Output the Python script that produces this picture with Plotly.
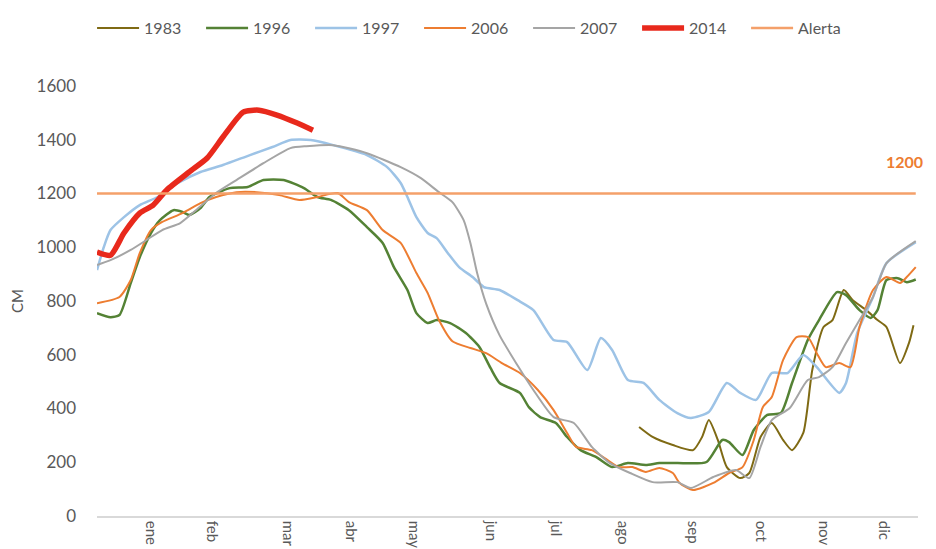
"""Niveles de agua por año frente al umbral de alerta."""

import plotly.graph_objects as go

# eje x: día del año
month_labels = ["ene", "feb", "mar", "abr", "may", "jun", "jul", "ago", "sep", "oct", "nov", "dic"]
month_ticks = [24, 51, 85, 113, 141, 175, 204, 234, 265, 295, 323, 350]

alert_level = 1200

days_1983 = [241, 247, 256, 265, 269, 272, 276, 280, 286, 290, 295, 300, 305, 309, 314, 318,
             323, 327, 332, 336, 342, 347, 351, 357, 361, 363]
cm_1983 = [331, 294, 264, 245, 294, 357, 283, 182, 141, 160, 294, 346, 283, 245, 309, 543,
           703, 729, 841, 803, 766, 729, 703, 569, 644, 710]

days_1996 = [0, 6, 10, 15, 19, 24, 28, 34, 38, 41, 46, 50, 59, 67, 74, 83, 92, 98, 104, 112,
             120, 127, 132, 138, 142, 147, 151, 157, 164, 170, 175, 179, 188, 192, 197, 204,
             209, 215, 222, 229, 236, 244, 250, 258, 271, 278, 281, 287, 292, 298, 304, 309,
             316, 321, 329, 333, 339, 344, 347, 351, 356, 360, 364]
cm_1996 = [755, 740, 748, 867, 963, 1053, 1101, 1138, 1131, 1120, 1146, 1187, 1220, 1224,
           1250, 1250, 1220, 1187, 1176, 1138, 1075, 1016, 926, 841, 755, 718, 729, 718, 681,
           629, 550, 495, 458, 405, 368, 346, 294, 245, 219, 182, 197, 190, 197, 197, 201,
           283, 275, 227, 320, 376, 383, 495, 655, 729, 833, 822, 766, 737, 766, 878, 885,
           870, 880]

days_1997 = [0, 3, 6, 12, 19, 27, 36, 46, 56, 68, 78, 86, 95, 105, 120, 129, 135, 138, 142,
             147, 151, 156, 161, 167, 172, 179, 187, 194, 203, 209, 218, 224, 229, 236, 243,
             250, 258, 264, 272, 280, 286, 293, 300, 307, 314, 320, 330, 333, 338, 345, 351,
             364]
cm_1997 = [915, 1000, 1064, 1112, 1157, 1187, 1239, 1280, 1306, 1343, 1373, 1399, 1399,
           1380, 1343, 1298, 1239, 1187, 1112, 1053, 1034, 978, 926, 889, 852, 841, 803, 766,
           655, 647, 543, 662, 618, 506, 495, 432, 383, 365, 387, 495, 458, 432, 532, 532,
           599, 554, 458, 495, 681, 815, 941, 1019]

days_2006 = [0, 10, 15, 19, 24, 29, 38, 46, 53, 62, 71, 81, 90, 98, 107, 112, 120, 127, 135,
             142, 147, 152, 158, 166, 173, 180, 188, 196, 203, 209, 213, 220, 227, 232, 238,
             244, 250, 256, 259, 265, 274, 281, 287, 292, 296, 300, 305, 311, 316, 320, 324,
             330, 335, 339, 345, 351, 357, 360, 364]
cm_2006 = [792, 815, 878, 978, 1064, 1094, 1127, 1164, 1187, 1205, 1205, 1194, 1176, 1187,
           1202, 1168, 1138, 1064, 1016, 904, 830, 729, 650, 625, 606, 569, 532, 469, 394,
           309, 257, 245, 208, 182, 182, 164, 179, 160, 123, 97, 123, 160, 182, 283, 405, 443,
           580, 666, 666, 606, 554, 569, 554, 703, 841, 889, 867, 889, 926]

days_2007 = [0, 6, 15, 22, 29, 37, 44, 53, 62, 74, 86, 93, 105, 120, 135, 144, 152, 158, 163,
             166, 169, 173, 179, 187, 194, 203, 212, 220, 228, 237, 247, 258, 264, 274, 284,
             290, 295, 300, 308, 316, 321, 327, 333, 339, 345, 351, 364]
cm_2007 = [934, 952, 990, 1027, 1064, 1090, 1138, 1202, 1250, 1313, 1369, 1376, 1380, 1350,
           1298, 1257, 1205, 1168, 1101, 1016, 904, 790, 672, 560, 469, 368, 346, 257, 197,
           160, 126, 126, 104, 145, 171, 141, 257, 357, 402, 506, 517, 554, 644, 729, 815,
           941, 1023]

days_2014 = [0, 6, 12, 19, 25, 31, 41, 49, 56, 65, 72, 80, 89, 96]
cm_2014 = [982, 970, 1053, 1127, 1157, 1213, 1280, 1332, 1410, 1503, 1510, 1492, 1462, 1435]

FONT = "Lato, 'Open Sans', sans-serif"
TEXT_COLOR = "#595959"

series = [
    ("1983", days_1983, cm_1983, "#7f6a14", 2),
    ("1996", days_1996, cm_1996, "#548235", 2.5),
    ("1997", days_1997, cm_1997, "#9dc3e6", 2.5),
    ("2006", days_2006, cm_2006, "#ed7d31", 2),
    ("2007", days_2007, cm_2007, "#a5a5a5", 2),
    ("2014", days_2014, cm_2014, "#e8291c", 5.5),
]

fig = go.Figure()
for name, x, y, color, width in series:
    fig.add_trace(
        go.Scatter(
            x=x,
            y=y,
            mode="lines",
            name=name,
            line={"color": color, "width": width, "shape": "spline", "smoothing": 0.6},
        )
    )

fig.add_trace(
    go.Scatter(
        x=[0, 364],
        y=[alert_level, alert_level],
        mode="lines",
        name="Alerta",
        line={"color": "#f4a06a", "width": 2.5},
    )
)

fig.add_annotation(
    x=365, y=alert_level, xref="x", yref="y",
    text="<b>1200</b>", showarrow=False,
    xanchor="right", yanchor="middle", yshift=32, xshift=7,
    font={"family": FONT, "size": 16, "color": "#ed7d31"},
)

# the page body adds an 8px offset, so the figure is a bit smaller than the window
fig.update_layout(
    width=928,
    height=541,
    margin={"l": 89, "r": 18, "t": 78, "b": 33, "autoexpand": False},
    paper_bgcolor="white",
    plot_bgcolor="white",
    font={"family": FONT, "size": 15, "color": TEXT_COLOR},
    showlegend=True,
    legend={
        "orientation": "h",
        "x": -0.006,
        "y": 1 + 58 / 430,
        "xanchor": "left",
        "yanchor": "middle",
        "itemwidth": 42,
        "entrywidth": 52,
        "entrywidthmode": "pixels",
        "font": {"family": FONT, "size": 16, "color": TEXT_COLOR},
    },
    xaxis={
        "range": [0, 365],
        "tickmode": "array",
        "tickvals": month_ticks,
        "ticktext": month_labels,
        "tickangle": 90,
        "showgrid": False,
        "zeroline": False,
        "showline": True,
        "linecolor": "#d9d9d9",
        "linewidth": 1.5,
        "ticks": "",
        "automargin": False,
        "tickfont": {"size": 15, "color": TEXT_COLOR},
    },
    yaxis={
        "range": [0, 1600],
        "dtick": 200,
        "showgrid": False,
        "zeroline": False,
        "showline": False,
        "automargin": False,
        "ticklabelstandoff": 20,
        "tickfont": {"size": 17, "color": TEXT_COLOR},
        "title": {"text": "CM", "standoff": 12, "font": {"size": 15, "color": TEXT_COLOR}},
    },
)

fig.write_html("out.html")
